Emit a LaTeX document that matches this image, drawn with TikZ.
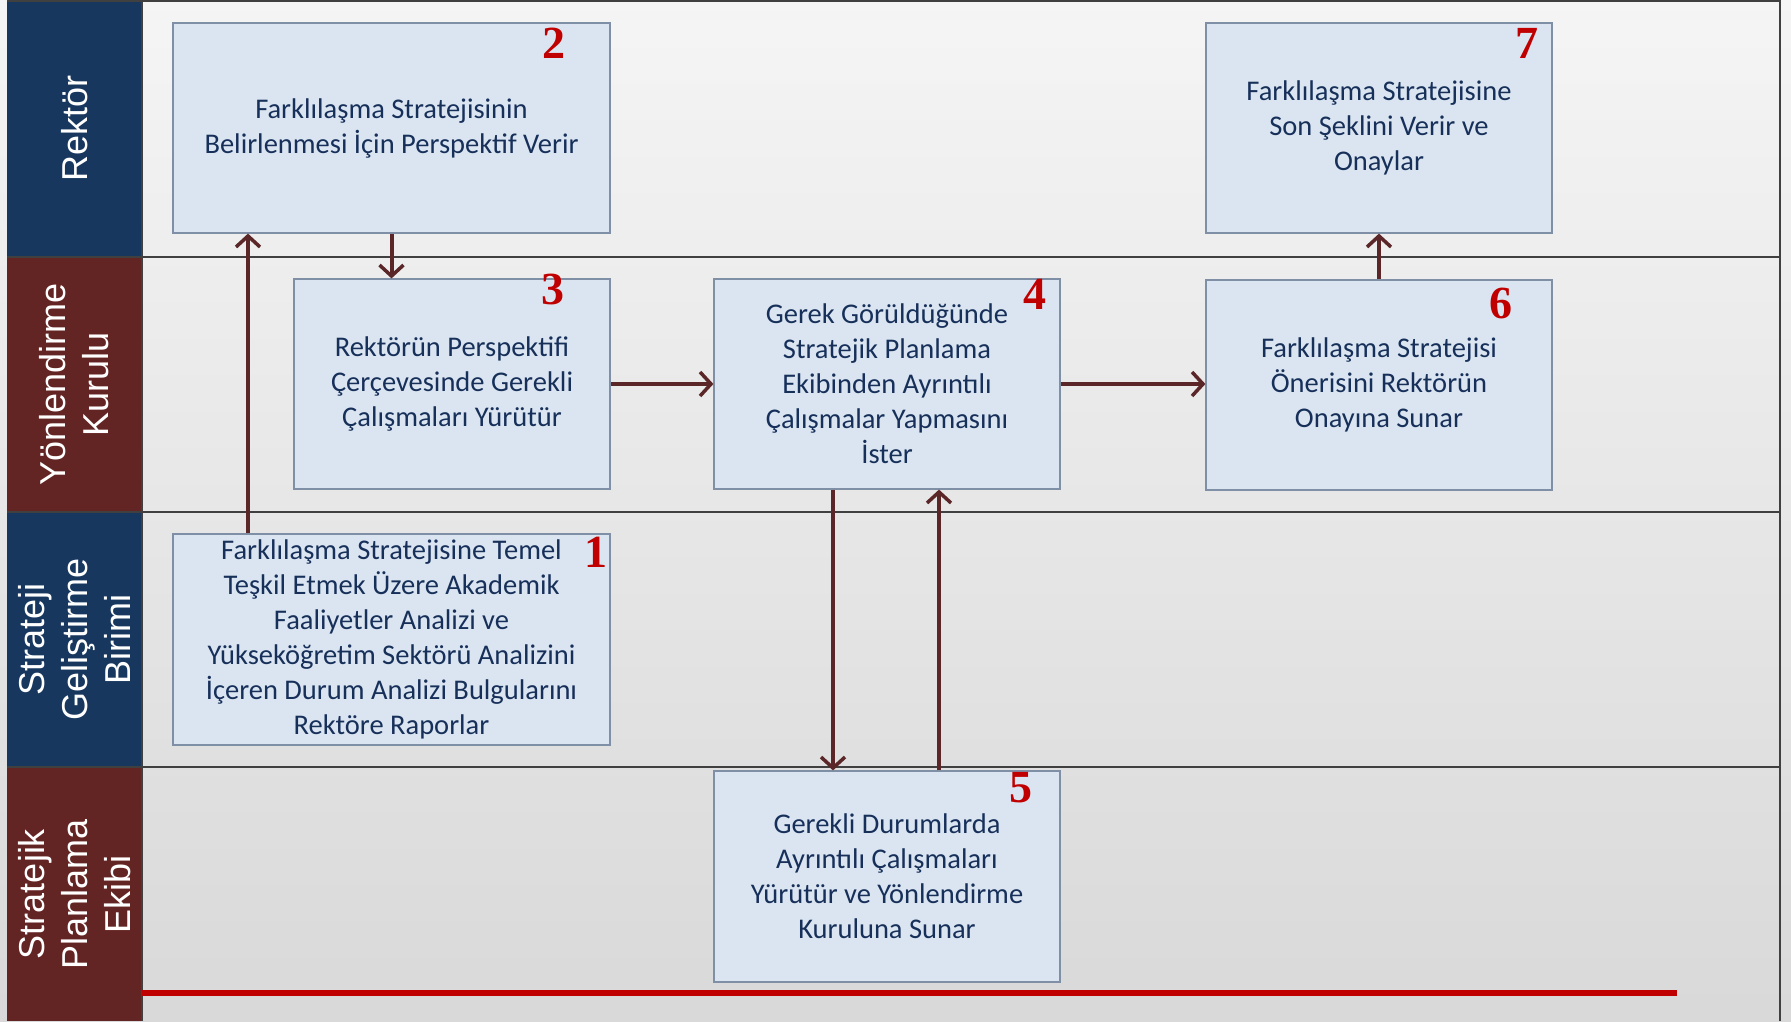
\documentclass[tikz,border=0pt]{standalone}
\usepackage{fontspec}
\setmainfont{Carlito}
\newfontfamily\lanefont{Liberation Sans}
\newfontfamily\numfont{Liberation Serif}
\usetikzlibrary{arrows.meta}
\definecolor{navy}{HTML}{17375E}
\definecolor{maroon}{HTML}{632523}
\definecolor{boxfill}{HTML}{DBE5F1}
\definecolor{boxline}{HTML}{7F8FA6}
\definecolor{boxtext}{HTML}{17305A}
\definecolor{arrowcol}{HTML}{5A2628}
\definecolor{redline}{HTML}{C00000}
\tikzset{
  stepbox/.style={draw=boxline, line width=1.2pt, fill=boxfill, text=boxtext, align=center,
    inner sep=0pt, font=\fontsize{28.5}{35}\selectfont},
  lanetext/.style={rotate=90, text=white, align=center, inner sep=0pt,
    font=\lanefont\fontsize{36}{43}\selectfont},
  numtext/.style={text=redline, inner sep=0pt, font=\numfont\bfseries\fontsize{46}{46}\selectfont},
  arr/.style={draw=arrowcol, line width=4pt, -{Straight Barb[length=11pt,width=24pt,line width=3.5pt]}},
  laneline/.style={draw=black!75, line width=1.5pt}
}
\begin{document}
\begin{tikzpicture}[x=1pt,y=-1pt]
\useasboundingbox (0,0) rectangle (1791,1021);
% background
\shade[top color=black!4, bottom color=black!15] (0,0) rectangle (1791,1021);
% lane label column
\fill[navy] (7,0) rectangle (142,257);
\fill[maroon] (7,257) rectangle (142,512);
\fill[navy] (7,512) rectangle (142,767);
\fill[maroon] (7,767) rectangle (142,1021);
% lane lines
\draw[laneline] (7,1) -- (1780,1);
\draw[laneline] (7,257) -- (1780,257);
\draw[laneline] (7,512) -- (1780,512);
\draw[laneline] (7,767) -- (1780,767);
\draw[laneline] (142,0) -- (142,1021);
\draw[laneline] (1780,0) -- (1780,1021);
% lane labels
\node[lanetext] (l1) at (74.5,128.5) {Rektör};
\node[lanetext] (l2) at (74.5,384.5) {Yönlendirme\\Kurulu};
\node[lanetext] (l3) at (74.5,639.5) {Strateji\\Geliştirme\\Birimi};
\node[lanetext] (l4) at (74.5,894) {Stratejik\\Planlama\\Ekibi};
% red line
\draw[redline, line width=6pt] (142,993) -- (1677,993);
% boxes
\node[stepbox, minimum width=437pt, minimum height=210pt] (b2) at (391.5,128) {Farklılaşma Stratejisinin\\Belirlenmesi İçin Perspektif Verir};
\node[stepbox, minimum width=346pt, minimum height=210pt] (b7) at (1379,128) {Farklılaşma Stratejisine\\Son Şeklini Verir ve\\Onaylar};
\node[stepbox, minimum width=316pt, minimum height=210pt] (b3) at (452,384) {Rektörün Perspektifi\\Çerçevesinde Gerekli\\Çalışmaları Yürütür};
\node[stepbox, minimum width=346pt, minimum height=210pt] (b4) at (887,384) {Gerek Görüldüğünde\\Stratejik Planlama\\Ekibinden Ayrıntılı\\Çalışmalar Yapmasını\\İster};
\node[stepbox, minimum width=346pt, minimum height=210pt] (b6) at (1379,385) {Farklılaşma Stratejisi\\Önerisini Rektörün\\Onayına Sunar};
\node[stepbox, minimum width=437pt, minimum height=211pt] (b1) at (391.5,639.5) {Farklılaşma Stratejisine Temel\\Teşkil Etmek Üzere Akademik\\Faaliyetler Analizi ve\\Yükseköğretim Sektörü Analizini\\İçeren Durum Analizi Bulgularını\\Rektöre Raporlar};
\node[stepbox, minimum width=346pt, minimum height=211pt] (b5) at (887,876.5) {Gerekli Durumlarda\\Ayrıntılı Çalışmaları\\Yürütür ve Yönlendirme\\Kuruluna Sunar};
% numbers
\node[numtext] (n1) at (596,552) {1};
\node[numtext] (n2) at (554,43) {2};
\node[numtext] (n3) at (553,289) {3};
\node[numtext] (n4) at (1035,294) {4};
\node[numtext] (n5) at (1021,788) {5};
\node[numtext] (n6) at (1501,303) {6};
\node[numtext] (n7) at (1527,43) {7};
% connector x positions
\coordinate (x12) at (248,0);
\coordinate (x45) at (833,0);
\coordinate (x54) at (939,0);
% connectors
\draw[arr] (b1.north -| x12) -- (b2.south -| x12);
\draw[arr] (b2.south) -- (b3.north -| b2.south);
\draw[arr] (b3.east) -- (b4.west);
\draw[arr] (b4.east) -- (b6.west |- b4.east);
\draw[arr] (b4.south -| x45) -- (b5.north -| x45);
\draw[arr] (b5.north -| x54) -- (b4.south -| x54);
\draw[arr] (b6.north) -- (b7.south);
\end{tikzpicture}
\end{document}
